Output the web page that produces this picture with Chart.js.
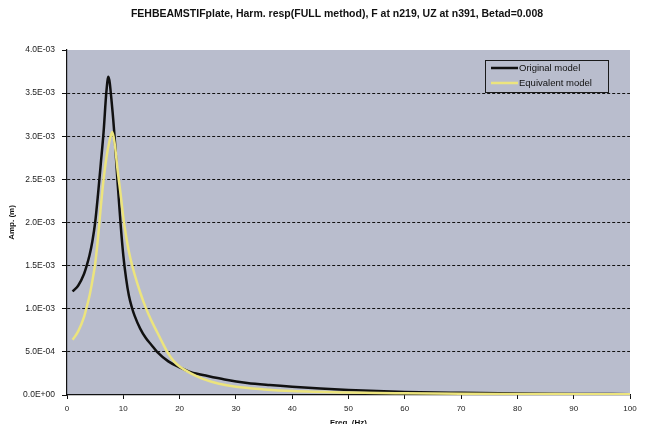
<!DOCTYPE html>
<html>
<head>
<meta charset="utf-8">
<script src="https://cdn.jsdelivr.net/npm/chart.js@4/dist/chart.umd.min.js"></script>
<style>
  html, body { margin: 0; padding: 0; background: #ffffff; }
  #wrap { width: 651px; height: 424px; }
</style>
</head>
<body>
<div id="wrap"><canvas id="chart" width="651" height="424"></canvas></div>
<script>
// Harmonic response amplitude, UZ at node 391 (m) vs excitation frequency (Hz)
const chartTitle = 'FEHBEAMSTIFplate, Harm. resp(FULL method), F at n219, UZ at n391, Betad=0.008';
const seriesNames = ['Original model', 'Equivalent model'];

const originalFreq = [1, 2, 3, 3.5, 4, 4.5, 5, 5.5, 6, 6.5, 7, 7.35, 8, 8.5, 9, 9.5, 10, 10.5, 11, 11.5,
  12, 13, 14, 15, 16, 18, 20, 22, 25, 28, 32, 36, 40, 45, 50, 55, 60, 70, 80, 90, 100];
const originalAmp = [1.20e-3, 1.27e-3, 1.40e-3, 1.50e-3, 1.62e-3, 1.78e-3, 2.00e-3, 2.32e-3, 2.68e-3, 3.05e-3,
  3.52e-3, 3.69e-3, 3.35e-3, 2.95e-3, 2.45e-3, 2.00e-3, 1.62e-3, 1.35e-3, 1.15e-3, 1.02e-3,
  0.92e-3, 0.77e-3, 0.66e-3, 0.58e-3, 0.50e-3, 0.39e-3, 0.32e-3, 0.265e-3, 0.22e-3, 0.18e-3,
  0.14e-3, 0.115e-3, 0.095e-3, 0.075e-3, 0.058e-3, 0.045e-3, 0.035e-3, 0.025e-3, 0.018e-3, 0.013e-3, 0.010e-3];

const equivFreq = [1, 2, 3, 3.5, 4, 4.5, 5, 5.5, 6, 6.5, 7, 7.5, 8.05, 8.5, 9, 9.5, 10, 10.5, 11, 11.5,
  12, 13, 14, 15, 16, 17, 18, 19, 20, 22, 24, 27, 30, 35, 40, 50, 60, 70, 80, 90, 100];
const equivAmp = [0.64e-3, 0.74e-3, 0.90e-3, 1.02e-3, 1.15e-3, 1.32e-3, 1.52e-3, 1.82e-3, 2.18e-3, 2.50e-3,
  2.75e-3, 2.93e-3, 3.05e-3, 2.90e-3, 2.60e-3, 2.34e-3, 2.06e-3, 1.84e-3, 1.66e-3, 1.52e-3,
  1.40e-3, 1.19e-3, 1.01e-3, 0.86e-3, 0.73e-3, 0.60e-3, 0.48e-3, 0.39e-3, 0.33e-3, 0.25e-3,
  0.19e-3, 0.13e-3, 0.095e-3, 0.065e-3, 0.045e-3, 0.028e-3, 0.020e-3, 0.015e-3, 0.012e-3, 0.010e-3, 0.008e-3];

const xTicks = [0, 10, 20, 30, 40, 50, 60, 70, 80, 90, 100];
const yTicks = [0, 5e-4, 1e-3, 1.5e-3, 2e-3, 2.5e-3, 3e-3, 3.5e-3, 4e-3];

const FONT = 'Liberation Sans, Arial, sans-serif';
const PLOT_BG = 'rgb(185,189,205)';

function toPoints(xs, ys) { return xs.map((x, i) => ({ x: x, y: ys[i] })); }

// Spreadsheet-style exponent label, e.g. 3.5E-03
function sciLabel(v) {
  if (Math.abs(v) < 1e-12) return '0.0E+00';
  const s = v.toExponential(1).toUpperCase();
  const m = s.match(/^(-?[\d.]+)E([+-])(\d+)$/);
  return m[1] + 'E' + m[2] + m[3].padStart(2, '0');
}

const plotBackground = {
  id: 'plotBackground',
  beforeDraw(chart) {
    const { ctx, chartArea: a } = chart;
    ctx.save();
    ctx.fillStyle = PLOT_BG;
    ctx.fillRect(a.left, a.top, a.right - a.left, a.bottom - a.top);
    ctx.restore();
  }
};

// Title line above the plot
const headerTitle = {
  id: 'headerTitle',
  afterDraw(chart) {
    const { ctx } = chart;
    ctx.save();
    ctx.font = 'bold 10.5px ' + FONT;
    ctx.fillStyle = '#111';
    ctx.textAlign = 'center';
    ctx.textBaseline = 'middle';
    ctx.fillText(chartTitle, 337, 14);
    ctx.restore();
  }
};

const boxLegend = {
  id: 'boxLegend',
  afterDraw(chart) {
    const { ctx } = chart;
    const x0 = 485, y0 = 60, w = 123, h = 32;
    ctx.save();
    ctx.fillStyle = PLOT_BG;
    ctx.fillRect(x0, y0, w, h);
    ctx.strokeStyle = '#1a1a1a';
    ctx.lineWidth = 1;
    ctx.strokeRect(x0 + 0.5, y0 + 0.5, w, h);
    ctx.font = '9.5px ' + FONT;
    ctx.textBaseline = 'middle';
    ctx.textAlign = 'left';
    [0, 1].forEach((di, row) => {
      const ds = chart.data.datasets[di];
      const yy = y0 + 8 + row * 15;
      ctx.strokeStyle = ds.borderColor;
      ctx.lineWidth = 2.5;
      ctx.beginPath();
      ctx.moveTo(x0 + 6, yy);
      ctx.lineTo(x0 + 33, yy);
      ctx.stroke();
      ctx.fillStyle = '#111';
      ctx.fillText(ds.label, x0 + 34, yy + 0.5);
    });
    ctx.restore();
  }
};

new Chart(document.getElementById('chart'), {
  type: 'line',
  data: {
    datasets: [
      {
        label: seriesNames[0],
        data: toPoints(originalFreq, originalAmp),
        borderColor: '#111111',
        borderWidth: 2.5,
        pointRadius: 0,
        cubicInterpolationMode: 'monotone',
        order: 2
      },
      {
        label: seriesNames[1],
        data: toPoints(equivFreq, equivAmp),
        borderColor: 'rgb(236,228,125)',
        borderWidth: 2.5,
        pointRadius: 0,
        cubicInterpolationMode: 'monotone',
        order: 1
      }
    ]
  },
  options: {
    responsive: false,
    animation: false,
    devicePixelRatio: 1,
    layout: { padding: { left: 0, right: 21, top: 50, bottom: 0 } },
    plugins: {
      legend: { display: false },
      tooltip: { enabled: false },
      title: { display: false }
    },
    scales: {
      x: {
        type: 'linear',
        min: 0,
        max: 100,
        afterFit(s) { s.height = 29; },
        afterBuildTicks(s) { s.ticks = xTicks.map(v => ({ value: v })); },
        border: { display: true, color: '#111', width: 1.2 },
        grid: { drawOnChartArea: false, drawTicks: true, tickLength: 4, tickColor: '#111' },
        ticks: {
          color: '#222',
          font: { family: FONT, size: 8 },
          padding: 5,
          maxRotation: 0,
          autoSkip: false
        },
        title: {
          display: true,
          text: 'Freq. (Hz)',
          color: '#111',
          font: { family: FONT, size: 8, weight: 'bold' },
          padding: { top: 0, bottom: -4 }
        }
      },
      y: {
        type: 'linear',
        min: 0,
        max: 4e-3,
        afterFit(s) { s.width = 67; },
        afterBuildTicks(s) { s.ticks = yTicks.map(v => ({ value: v })); },
        border: { display: true, color: '#111', width: 1.2, dash: [3, 2] },
        grid: {
          color(ctx) {
            const v = ctx.tick ? ctx.tick.value : 0;
            return (v <= 0 || v >= 4e-3) ? 'rgba(0,0,0,0)' : '#111';
          },
          lineWidth: 1,
          tickBorderDash: [],
          tickColor: '#111',
          tickLength: 5
        },
        ticks: {
          color: '#222',
          font: { family: FONT, size: 8.5 },
          padding: 7,
          callback: v => sciLabel(v)
        },
        title: {
          display: true,
          text: 'Amp. (m)',
          color: '#111',
          font: { family: FONT, size: 8, weight: 'bold' },
          padding: { top: 7, bottom: 0 }
        }
      }
    }
  },
  plugins: [plotBackground, headerTitle, boxLegend]
});
</script>
</body>
</html>
